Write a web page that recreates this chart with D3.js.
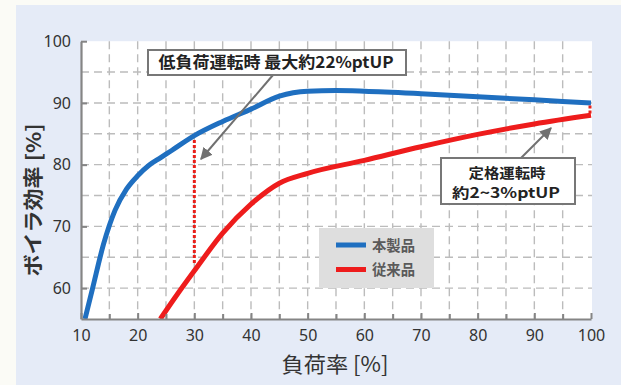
<!DOCTYPE html>
<html><head><meta charset="utf-8">
<script src="https://cdn.jsdelivr.net/npm/d3@7"></script>
<style>body{margin:0;background:#fbfbf6;overflow:hidden}</style>
</head><body>
<svg id="c" width="621" height="385"></svg>
<script>
// ---- data ----
const blueLoad = [10.7, 12, 14, 16, 18, 20, 22, 24, 26, 30, 35, 40, 45, 50, 55, 60, 70, 80, 90, 100];
const blueEff  = [55, 59.8, 67.2, 72.6, 76.0, 78.2, 79.9, 81.1, 82.3, 84.7, 87.0, 89.0, 91.1, 91.9, 92.0, 91.9, 91.5, 91.0, 90.5, 90.0];
const redLoad  = [24, 27, 30, 35, 40, 45, 50, 60, 70, 80, 90, 100];
const redEff   = [55, 59.0, 62.8, 68.9, 73.6, 77.0, 78.6, 80.7, 82.9, 84.9, 86.6, 88.0];
const xTicks = [10, 20, 30, 40, 50, 60, 70, 80, 90, 100];
const yTicks = [60, 70, 80, 90, 100];
const seriesNames = ["本製品", "従来品"];
const seriesColors = ["#1f6fc0", "#ee1c1c"];
const xTitle = "負荷率 [%]";
const yTitle = "ボイラ効率 [%]";
const note1 = "低負荷運転時 最大約22%ptUP";
const note2 = ["定格運転時", "約2~3%ptUP"];
const gapLow = {load: 30, top: 84.0, bottom: 63.9};
const gapRated = {load: 100, top: 89.6, bottom: 88.3};

// ---- layout ----
const svg = d3.select("#c");
const L = 81, R = 592, T = 41.2, B = 319;
const x = d3.scaleLinear().domain([10, 100]).range([L, R - 1]);
const y = d3.scaleLinear().domain([55, 100]).range([B, T]);
const JP = "'Noto Sans CJK JP','Noto Sans',sans-serif";

svg.append("rect").attr("x", 16).attr("y", 5).attr("width", 605).attr("height", 380).attr("fill", "#e5ebf7");
svg.append("rect").attr("x", L).attr("y", T).attr("width", R - L).attr("height", B - T).attr("fill", "#ffffff");

// grid
const g = svg.append("g");
g.selectAll("line.vg").data(d3.range(15, 100, 5)).join("line")
  .attr("x1", d => x(d)).attr("x2", d => x(d)).attr("y1", T).attr("y2", B)
  .attr("stroke", "#bcbcbc").attr("stroke-width", 1.4).attr("stroke-dasharray", "8,5");
g.selectAll("line.hg").data(d3.range(60, 100, 5)).join("line")
  .attr("y1", d => y(d)).attr("y2", d => y(d)).attr("x1", L).attr("x2", R)
  .attr("stroke", "#bcbcbc").attr("stroke-width", 1.4).attr("stroke-dasharray", "8,5");

// legend box
svg.append("rect").attr("x", 319).attr("y", 228).attr("width", 115).attr("height", 60).attr("fill", "#dedede");
seriesNames.forEach((n, i) => {
  const yy = 245 + i * 24.5;
  svg.append("line").attr("x1", 336).attr("x2", 366).attr("y1", yy).attr("y2", yy)
    .attr("stroke", seriesColors[i]).attr("stroke-width", 5);
  svg.append("text").attr("x", 372).attr("y", yy + 5.5).text(n)
    .attr("font-family", JP).attr("font-weight", 700).attr("font-size", 14.5).attr("fill", "#5a5a5a")
    .attr("textLength", 43).attr("lengthAdjust", "spacingAndGlyphs");
});

// lines
svg.append("clipPath").attr("id", "pc").append("rect")
  .attr("x", L).attr("y", T).attr("width", R - L).attr("height", B - T);
const line = d3.line().x(d => x(d[0])).y(d => y(d[1])).curve(d3.curveMonotoneX);
svg.append("path").datum(redLoad.map((v, i) => [v, redEff[i]])).attr("d", line)
  .attr("fill", "none").attr("stroke", seriesColors[1]).attr("stroke-width", 5).attr("clip-path", "url(#pc)");
svg.append("path").datum(blueLoad.map((v, i) => [v, blueEff[i]])).attr("d", line)
  .attr("fill", "none").attr("stroke", seriesColors[0]).attr("stroke-width", 5).attr("clip-path", "url(#pc)");

// gap markers
[gapLow, gapRated].forEach(gp => {
  const gx = x(gp.load) - (gp.load === 100 ? 1 : 0);
  svg.append("line").attr("x1", gx).attr("x2", gx)
    .attr("y1", y(gp.top)).attr("y2", y(gp.bottom))
    .attr("stroke", "#e8201a").attr("stroke-width", 3).attr("stroke-dasharray", "3,2");
});

// axes
const xAxis = d3.axisBottom(x).tickValues(xTicks).tickSize(-6).tickPadding(11).tickSizeOuter(0);
svg.append("g").attr("transform", `translate(0,${B})`).call(xAxis);
const xMinor = d3.axisBottom(x).tickValues(d3.range(15, 100, 10)).tickSize(-5).tickFormat("").tickSizeOuter(0);
svg.append("g").attr("transform", `translate(0,${B})`).call(xMinor).select(".domain").remove();
const yAxis = d3.axisLeft(y).tickValues(yTicks).tickSize(-6).tickPadding(10).tickSizeOuter(0);
svg.append("g").attr("transform", `translate(${L},0)`).call(yAxis);
svg.selectAll(".domain").attr("stroke", "#858585").attr("stroke-width", 2.2);
svg.selectAll(".tick line").attr("stroke", "#858585").attr("stroke-width", 2);
svg.selectAll(".tick text").attr("font-family", "'Noto Sans',sans-serif").attr("font-size", 16).attr("fill", "#333");

// titles
svg.append("text").attr("x", 335).attr("y", 372).attr("text-anchor", "middle").text(xTitle)
  .attr("font-family", JP).attr("font-size", 21).attr("fill", "#333")
  .attr("textLength", 107).attr("lengthAdjust", "spacingAndGlyphs");
svg.append("text").attr("transform", "translate(41,200) rotate(-90)").attr("text-anchor", "middle").text(yTitle)
  .attr("font-family", JP).attr("font-size", 20).attr("font-weight", 700).attr("fill", "#333")
  .attr("textLength", 153).attr("lengthAdjust", "spacingAndGlyphs");

// arrows
const defs = svg.append("defs");
defs.append("marker").attr("id", "ah").attr("viewBox", "0 0 10 10").attr("refX", 9).attr("refY", 5)
  .attr("markerWidth", 6).attr("markerHeight", 6).attr("orient", "auto")
  .append("path").attr("d", "M0,0L10,5L0,10z").attr("fill", "#707070");
svg.append("line").attr("x1", 273).attr("y1", 75).attr("x2", 201).attr("y2", 159)
  .attr("stroke", "#707070").attr("stroke-width", 2).attr("marker-end", "url(#ah)");
svg.append("line").attr("x1", 519).attr("y1", 160).attr("x2", 551).attr("y2", 128)
  .attr("stroke", "#707070").attr("stroke-width", 2).attr("marker-end", "url(#ah)");

// note boxes
svg.append("rect").attr("x", 148).attr("y", 50).attr("width", 258).attr("height", 25)
  .attr("fill", "#fff").attr("stroke", "#777").attr("stroke-width", 2);
svg.append("text").attr("x", 276).attr("y", 68).attr("text-anchor", "middle").text(note1)
  .attr("font-family", JP).attr("font-weight", 700).attr("font-size", 16).attr("fill", "#222")
  .attr("textLength", 235).attr("lengthAdjust", "spacingAndGlyphs");
svg.append("rect").attr("x", 441).attr("y", 158).attr("width", 134).attr("height", 46)
  .attr("fill", "#fff").attr("stroke", "#777").attr("stroke-width", 2);
svg.append("text").attr("x", 507).attr("y", 177.5).attr("text-anchor", "middle").text(note2[0])
  .attr("font-family", JP).attr("font-weight", 700).attr("font-size", 14).attr("fill", "#222")
  .attr("textLength", 77).attr("lengthAdjust", "spacingAndGlyphs");
svg.append("text").attr("x", 506).attr("y", 198).attr("text-anchor", "middle").text(note2[1])
  .attr("font-family", JP).attr("font-weight", 700).attr("font-size", 14).attr("fill", "#222")
  .attr("textLength", 108).attr("lengthAdjust", "spacingAndGlyphs");
</script>
</body></html>
